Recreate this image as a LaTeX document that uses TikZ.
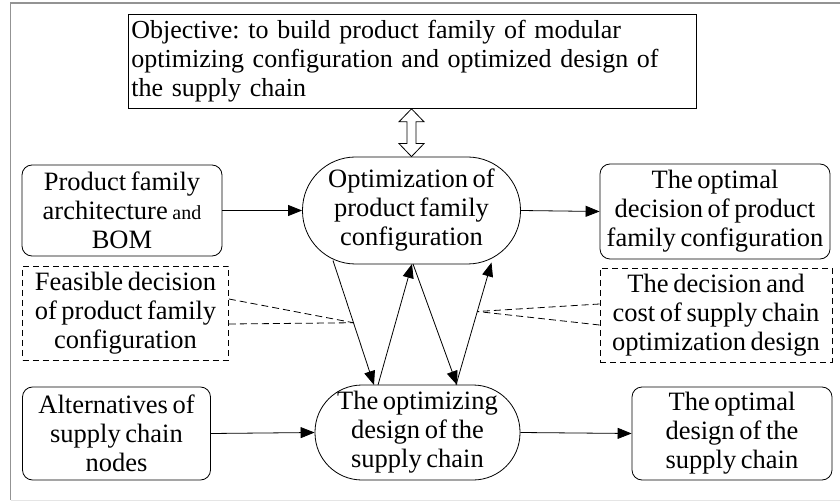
\documentclass[tikz,border=0pt]{standalone}
\usepackage{fontspec}
\setmainfont{Liberation Serif}[WordSpace=0.7]
\usetikzlibrary{arrows.meta,calc}
\frenchspacing

\begin{document}
\begin{tikzpicture}[x=1pt,y=-1pt,
  txt/.style={font=\fontsize{26.5}{29}\selectfont, align=center, inner sep=0pt},
  rbox/.style={txt, draw, line width=0.8pt, rounded corners=10pt},
  dbox/.style={txt, draw, line width=0.8pt, dash pattern=on 6pt off 4pt},
  pill/.style={txt, draw, line width=0.8pt},
  arr/.style={line width=0.8pt, -{Triangle[length=14pt,width=11pt]}},
  dline/.style={line width=0.8pt, dash pattern=on 7pt off 4pt}
]
\useasboundingbox (0,0) rectangle (840,502);

% page frame
\draw[line width=1.5pt, gray!85] (10.7,500) -- (10.7,3) -- (840,3);
\draw[line width=1pt, gray!20] (10.7,500) -- (840,500);

% objective
\node[draw, line width=0.8pt, txt, font=\fontsize{26}{29}\selectfont, align=left, anchor=north west,
      minimum width=568pt, minimum height=94pt, text width=562pt, inner sep=3pt]
  (obj) at (128,14)
  {Objective: to build product family of modular\\
   optimizing configuration and optimized design of\\
   the supply chain};

% upper row
\node[rbox, minimum width=200pt, minimum height=91pt] (pf) at (122,210.5)
  {Product family\\architecture {\fontsize{20}{29}\selectfont and}\\BOM};
\node[pill, rounded corners=53pt, minimum width=218pt, minimum height=107pt] (opt) at (411.5,210.5)
  {Optimization of\\product family\\configuration};
\node[rbox, minimum width=230pt, minimum height=95pt] (optdec) at (715,211.5)
  {The optimal\\decision of product\\family configuration};

% middle row (dashed notes)
\node[dbox, minimum width=206pt, minimum height=94pt] (feas) at (125.5,313)
  {Feasible decision\\of product family\\configuration};
\node[dbox, minimum width=232pt, minimum height=94pt] (cost) at (716,315)
  {The decision and\\cost of supply chain\\optimization design};

% lower row
\node[rbox, minimum width=188pt, minimum height=93pt] (alt) at (116.5,433.5)
  {Alternatives of\\supply chain\\nodes};
\node[pill, rounded corners=47pt, minimum width=205pt, minimum height=95pt] (sc) at (417.5,432.5)
  {The optimizing\\design of the\\supply chain};
\node[rbox, minimum width=200pt, minimum height=93pt] (optdes) at (732,433.5)
  {The optimal\\design of the\\supply chain};

% hollow double arrow between objective and optimization
\coordinate (dt) at (obj.south -| opt.north);
\coordinate (db) at (opt.north);
\draw[line width=0.8pt, fill=white]
  (dt) -- ($(dt)+(-12.5,13)$) -- ($(dt)+(-4.5,13)$) -- ($(db)+(-4.5,-13)$)
  -- ($(db)+(-12.5,-13)$) -- (db) -- ($(db)+(12.5,-13)$) -- ($(db)+(4.5,-13)$)
  -- ($(dt)+(4.5,13)$) -- ($(dt)+(12.5,13)$) -- cycle;

% horizontal flows
\draw[arr] (pf.east) -- (opt.west);
\draw[arr] (opt.east) -- (optdec.west);
\draw[arr] (alt.east) -- (sc.west);
\draw[arr] (sc.east) -- (optdes.west);

% iterations between the two optimizations
\coordinate (a1s) at ($(opt.center)+(-78.5,50)$);
\coordinate (a1e) at ($(sc.center)+(-43.5,-47.5)$);
\coordinate (a2s) at ($(sc.center)+(-39.5,-47.5)$);
\coordinate (a2e) at ($(opt.center)+(0.5,53.5)$);
\coordinate (a3s) at ($(opt.center)+(1.5,53.5)$);
\coordinate (a3e) at ($(sc.center)+(39.5,-47.5)$);
\coordinate (a4s) at ($(sc.center)+(38.5,-47.5)$);
\coordinate (a4e) at ($(opt.center)+(80,52)$);
\draw[arr] (a1s) -- (a1e) coordinate[pos=0.5] (m1);
\draw[arr] (a2s) -- (a2e);
\draw[arr] (a3s) -- (a3e);
\draw[arr] (a4s) -- (a4e) coordinate[pos=0.6] (m4);

% dashed leaders from the notes
\draw[dline] ($(feas.east)+(0,-14)$) -- (m1);
\draw[dline] ($(feas.east)+(0,11)$) -- (m1);
\draw[dline] ($(cost.west)+(0,-11)$) -- (m4);
\draw[dline] ($(cost.west)+(0,10)$) -- (m4);
\end{tikzpicture}
\end{document}
